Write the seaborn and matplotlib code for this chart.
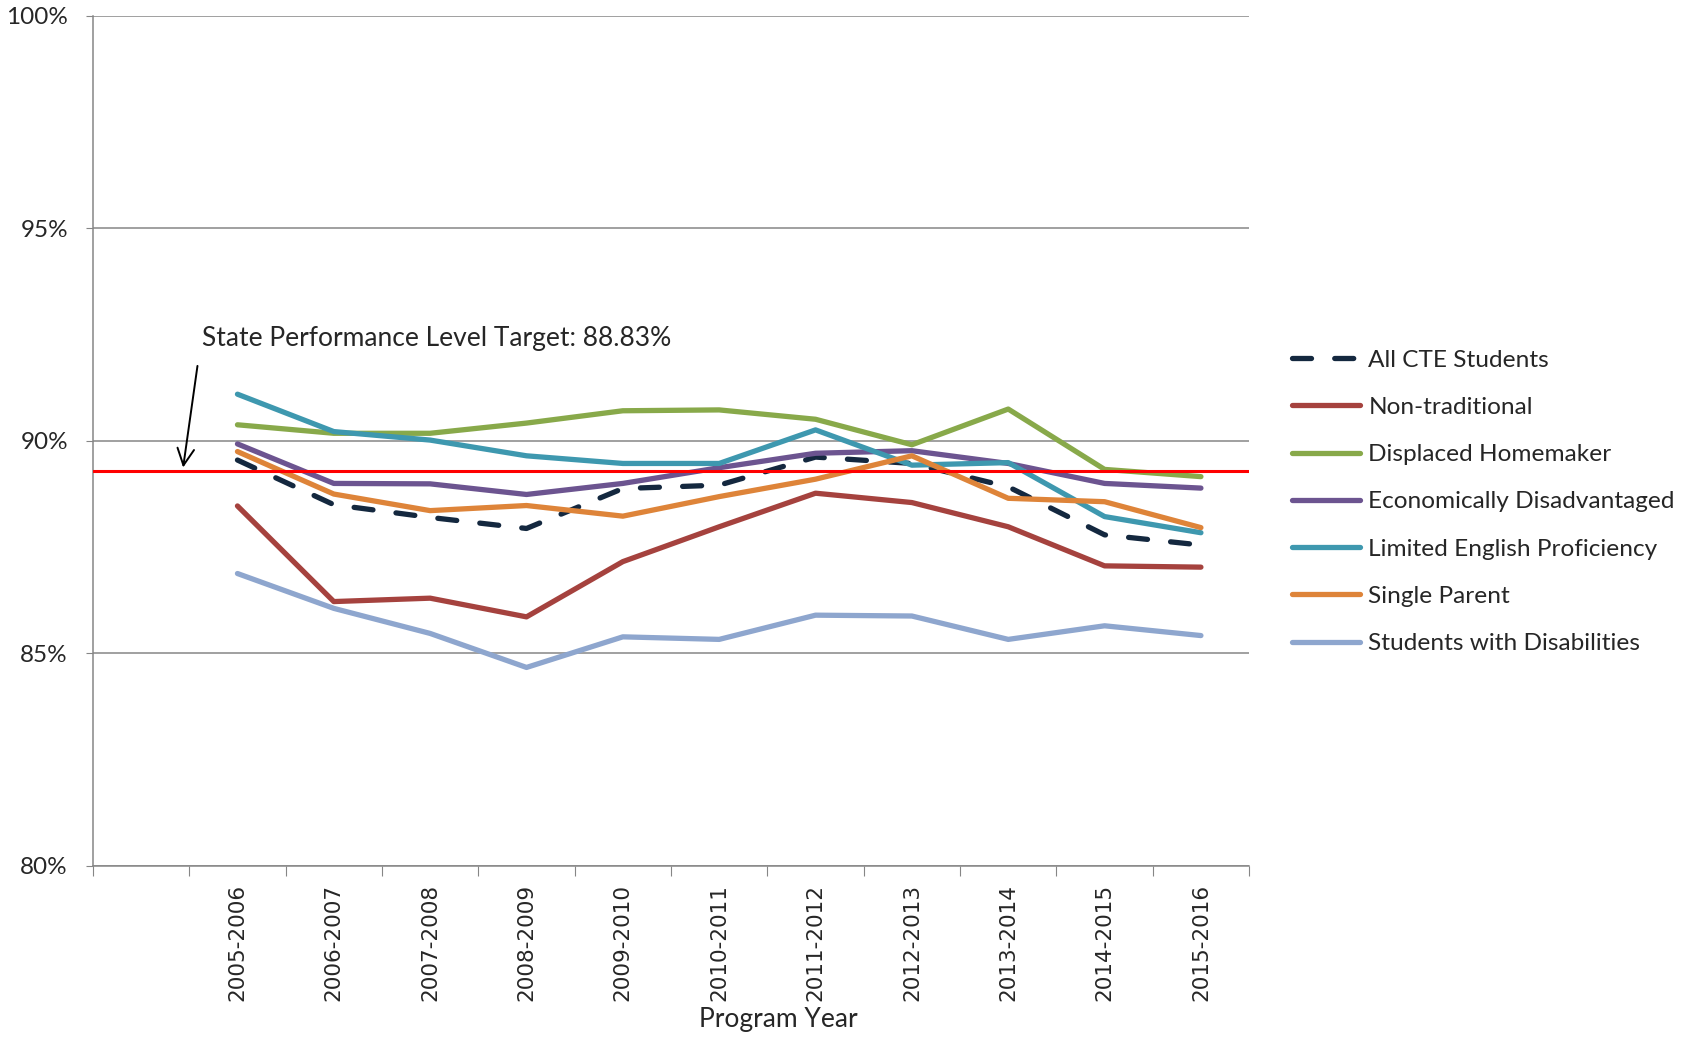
import matplotlib
matplotlib.use("Agg")
import matplotlib.pyplot as plt
import numpy as np
import pandas as pd
import seaborn as sns

# program years (first category on the axis is left blank)
years = ['2005-2006', '2006-2007', '2007-2008', '2008-2009', '2009-2010', '2010-2011',
         '2011-2012', '2012-2013', '2013-2014', '2014-2015', '2015-2016']

all_cte = [89.55, 88.50, 88.20, 87.94, 88.88, 88.96, 89.62, 89.47, 88.92, 87.79, 87.55]
non_trad = [88.47, 86.22, 86.30, 85.86, 87.16, 87.98, 88.77, 88.55, 87.98, 87.06, 87.03]
displaced = [90.38, 90.18, 90.18, 90.42, 90.71, 90.73, 90.51, 89.91, 90.75, 89.33, 89.16]
econ = [89.93, 89.00, 88.99, 88.74, 89.00, 89.37, 89.71, 89.77, 89.47, 89.00, 88.89]
lep = [91.10, 90.22, 90.02, 89.65, 89.47, 89.47, 90.26, 89.43, 89.49, 88.22, 87.84]
single = [89.75, 88.75, 88.36, 88.48, 88.23, 88.69, 89.10, 89.65, 88.65, 88.57, 87.96]
swd = [86.88, 86.06, 85.47, 84.67, 85.39, 85.33, 85.90, 85.88, 85.33, 85.65, 85.42]

target_line = 89.29
target_text = 'State Performance Level Target: 88.83%'

groups = ['All CTE Students', 'Non-traditional', 'Displaced Homemaker',
          'Economically Disadvantaged', 'Limited English Proficiency',
          'Single Parent', 'Students with Disabilities']
series = [all_cte, non_trad, displaced, econ, lep, single, swd]
colors = ['#14283F', '#A5423E', '#88A94A', '#6C5490', '#3E98AF', '#DE8439', '#8EA6CE']

rows = []
for g, vals in zip(groups, series):
    for i, v in enumerate(vals):
        rows.append({'group': g, 'pos': i + 1, 'value': v})
df = pd.DataFrame(rows)

sns.set_style('white')
plt.rcParams['font.family'] = ['Lato', 'DejaVu Sans']

fig = plt.figure(figsize=(16.96, 10.37), dpi=100)
ax = fig.add_subplot(111)
fig.subplots_adjust(left=0.0548, right=0.7365, top=0.9846, bottom=0.165)

lw = 3.8
dashes = {g: '' for g in groups}
dashes['All CTE Students'] = (3.6, 4.4)
sns.lineplot(data=df, x='pos', y='value', hue='group', style='group',
             hue_order=groups, style_order=groups,
             palette=dict(zip(groups, colors)), dashes=dashes,
             linewidth=lw, solid_capstyle='round', dash_capstyle='round', ax=ax)

# target line + its label
ax.axhline(target_line, color='#FF0000', lw=2.2, zorder=10)
ax.annotate('', xy=(0.432, 89.31), xytext=(0.589, 91.83),
            arrowprops=dict(arrowstyle='->', color='black', lw=1.4, mutation_scale=30))
ax.text(0.63, 92.42, target_text, fontsize=19, ha='left', va='center')

# axes
ax.set_ylim(80, 100)
ax.set_xlim(-0.5, 11.5)
ax.set_yticks([80, 85, 90, 95, 100])
ax.set_yticklabels(['80%', '85%', '90%', '95%', '100%'], fontsize=17.5)
ax.yaxis.grid(True, color='#868686', lw=1.1)
ax.set_axisbelow(True)
ax.tick_params(axis='y', length=5, color='#868686', pad=13, left=True)

ax.set_xticks(np.arange(-0.5, 12, 1))
ax.set_xticklabels([])
ax.tick_params(axis='x', which='major', length=7, color='#868686', bottom=True)
ax.set_xticks(np.arange(1, 12), minor=True)
ax.set_xticklabels(years, minor=True, rotation=90, fontsize=15.5, family='DejaVu Sans')
ax.tick_params(axis='x', which='minor', length=0, pad=13)

for side in ['top', 'right']:
    ax.spines[side].set_visible(False)
for side in ['left', 'bottom']:
    ax.spines[side].set_color('#868686')
    ax.spines[side].set_linewidth(1.1)

ax.set_xlabel('Program Year', fontsize=19)
ax.set_ylabel('')
ax.xaxis.set_label_coords(0.593, -0.181)
ax.xaxis.label.set_va('center')

handles, labels = ax.get_legend_handles_labels()
for h in handles:
    h.set_linewidth(lw)
ax.get_legend().remove()
fig.legend(handles, labels, loc='center left', bbox_to_anchor=(0.762, 0.516),
           frameon=False, fontsize=17.6, handlelength=2.75, handletextpad=0.36,
           labelspacing=1.07, borderpad=0, borderaxespad=0)

fig.savefig('out.png', dpi=100)
